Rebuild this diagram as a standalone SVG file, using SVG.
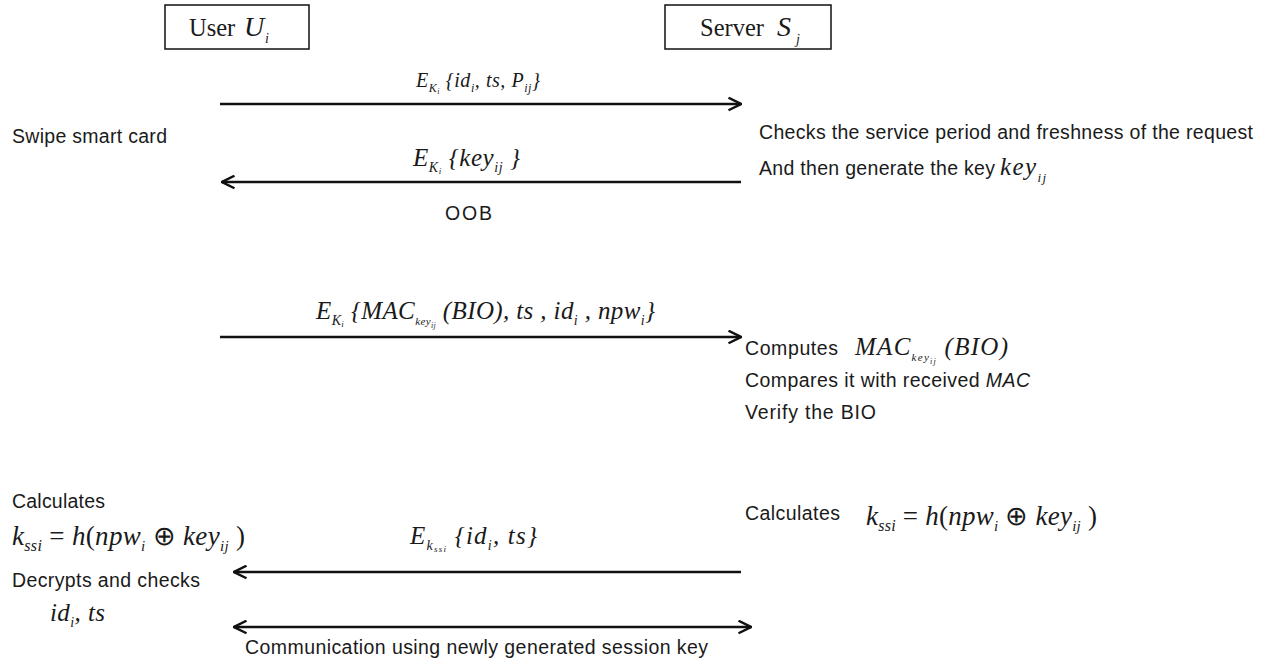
<svg xmlns="http://www.w3.org/2000/svg" width="1270" height="661" viewBox="0 0 1270 661">
<style>
.s{font-family:"Liberation Sans",Arial,sans-serif;font-size:19.5px;fill:#1a1a1a}
.m{font-family:"Liberation Serif","Times New Roman",serif;font-style:italic;fill:#1a1a1a}
.r{font-family:"Liberation Serif","Times New Roman",serif;fill:#1a1a1a}
.n{font-style:normal}
.ln{stroke:#111;stroke-width:2.5;fill:none}
.box{fill:#fff;stroke:#111;stroke-width:1.5}
</style>
<defs>
<marker id="ah" viewBox="0 0 12 12" refX="11" refY="6" markerWidth="6" markerHeight="6" markerUnits="strokeWidth" orient="auto-start-reverse">
<path d="M1,1 L11,6 L1,11" fill="none" stroke="#111" stroke-width="2"/>
</marker>
</defs>
<rect width="1270" height="661" fill="#fff"/>
<g id="user">
<rect class="box" x="165" y="5" width="144" height="44"/>
<text x="189" y="36" class="r" font-size="24.5">User</text>
<text x="244" y="36" class="m" font-size="28">U</text>
<text x="265" y="43" class="m" font-size="14">i</text>
</g>
<g id="server">
<rect class="box" x="665" y="5" width="166" height="44"/>
<text x="700" y="36" class="r" font-size="24.5">Server</text>
<text x="777" y="36" class="m" font-size="28">S</text>
<text x="796" y="44" class="m" font-size="14">j</text>
</g>
<g id="connectors">
<line class="ln" x1="220" y1="104" x2="741" y2="104" marker-end="url(#ah)"/>
<line class="ln" x1="741" y1="182" x2="222" y2="182" marker-end="url(#ah)"/>
<line class="ln" x1="220" y1="337" x2="741" y2="337" marker-end="url(#ah)"/>
<line class="ln" x1="741" y1="572" x2="234" y2="572" marker-end="url(#ah)"/>
<line class="ln" x1="234" y1="627" x2="751" y2="627" marker-start="url(#ah)" marker-end="url(#ah)"/>
</g>
<g id="labels">
<text class="m" x="416" y="87" font-size="20" textLength="124" lengthAdjust="spacing">E<tspan font-size="12" dy="5">K</tspan><tspan font-size="8" dy="2">i</tspan><tspan font-size="20" dy="-7"> {id</tspan><tspan font-size="12" dy="5">i</tspan><tspan font-size="20" dy="-5">, ts, P</tspan><tspan font-size="12" dy="5">ij</tspan><tspan font-size="20" dy="-5">}</tspan></text>
<text class="m" x="413" y="166" font-size="25" textLength="107" lengthAdjust="spacing">E<tspan font-size="14" dy="6">K</tspan><tspan font-size="9" dy="2">i</tspan><tspan font-size="25" dy="-8"> {key</tspan><tspan font-size="14" dy="6">ij</tspan><tspan font-size="25" dy="-6"> }</tspan></text>
<text class="s" x="445" y="220" textLength="47" lengthAdjust="spacing">OOB</text>
<text class="m" x="316" y="319" font-size="25" textLength="339" lengthAdjust="spacing">E<tspan font-size="14" dy="6">K</tspan><tspan font-size="9" dy="2">i</tspan><tspan font-size="25" dy="-8"> {MAC</tspan><tspan font-size="11" dy="6">key</tspan><tspan font-size="8" dy="3">ij</tspan><tspan font-size="25" dy="-9"> (BIO), ts , id</tspan><tspan font-size="14" dy="6">i</tspan><tspan font-size="25" dy="-6"> , npw</tspan><tspan font-size="14" dy="6">i</tspan><tspan font-size="25" dy="-6">}</tspan></text>
<text class="m" x="410" y="544" font-size="25" textLength="127" lengthAdjust="spacing">E<tspan font-size="14" dy="6">k</tspan><tspan font-size="9" dy="2">ssi</tspan><tspan font-size="25" dy="-8"> {id</tspan><tspan font-size="14" dy="6">i</tspan><tspan font-size="25" dy="-6">, ts}</tspan></text>
<text class="s" x="245" y="654" textLength="463" lengthAdjust="spacing">Communication using newly generated session key</text>
</g>
<g id="user-notes">
<text class="s" x="12" y="143" textLength="155" lengthAdjust="spacing">Swipe smart card</text>
<text class="s" x="12" y="508" textLength="93" lengthAdjust="spacing">Calculates</text>
<text class="m" x="12" y="545" font-size="27" textLength="233" lengthAdjust="spacing">k<tspan font-size="16" dy="6">ssi</tspan><tspan font-size="27" dy="-6" class="n"> = </tspan><tspan font-size="27">h</tspan><tspan font-size="27" class="n">(</tspan><tspan font-size="27">npw</tspan><tspan font-size="15" dy="6">i</tspan><tspan font-size="27" dy="-6" class="n"> ⊕ </tspan><tspan font-size="27">key</tspan><tspan font-size="15" dy="6">ij</tspan><tspan font-size="27" dy="-6" class="n"> )</tspan></text>
<text class="s" x="12" y="587" textLength="188" lengthAdjust="spacing">Decrypts and checks</text>
<text class="m" x="50" y="621" font-size="25" textLength="55" lengthAdjust="spacing">id<tspan font-size="14" dy="6">i</tspan><tspan font-size="25" dy="-6">, ts</tspan></text>
</g>
<g id="server-notes">
<text class="s" x="759" y="139" textLength="494" lengthAdjust="spacing">Checks the service period and freshness of the request</text>
<text class="s" x="759" y="175" textLength="236" lengthAdjust="spacing">And then generate the key</text>
<text class="m" x="1000" y="175" font-size="25" textLength="46" lengthAdjust="spacing">key<tspan font-size="13" dy="7">ij</tspan></text>
<text class="s" x="745" y="355" textLength="93" lengthAdjust="spacing">Computes</text>
<text class="m" x="855" y="355" font-size="25" textLength="153" lengthAdjust="spacing">MAC<tspan font-size="11" dy="6">key</tspan><tspan font-size="8" dy="3">ij</tspan><tspan font-size="25" dy="-9"> (BIO)</tspan></text>
<text class="s" x="745" y="387" textLength="285" lengthAdjust="spacing">Compares it with received <tspan font-style="italic">MAC</tspan></text>
<text class="s" x="745" y="419" textLength="131" lengthAdjust="spacing">Verify the  BIO</text>
<text class="s" x="745" y="520" textLength="95" lengthAdjust="spacing">Calculates</text>
<text class="m" x="866" y="525" font-size="27" textLength="231" lengthAdjust="spacing">k<tspan font-size="16" dy="6">ssi</tspan><tspan font-size="27" dy="-6" class="n"> = </tspan><tspan font-size="27">h</tspan><tspan font-size="27" class="n">(</tspan><tspan font-size="27">npw</tspan><tspan font-size="15" dy="6">i</tspan><tspan font-size="27" dy="-6" class="n"> ⊕ </tspan><tspan font-size="27">key</tspan><tspan font-size="15" dy="6">ij</tspan><tspan font-size="27" dy="-6" class="n"> )</tspan></text>
</g>
</svg>
